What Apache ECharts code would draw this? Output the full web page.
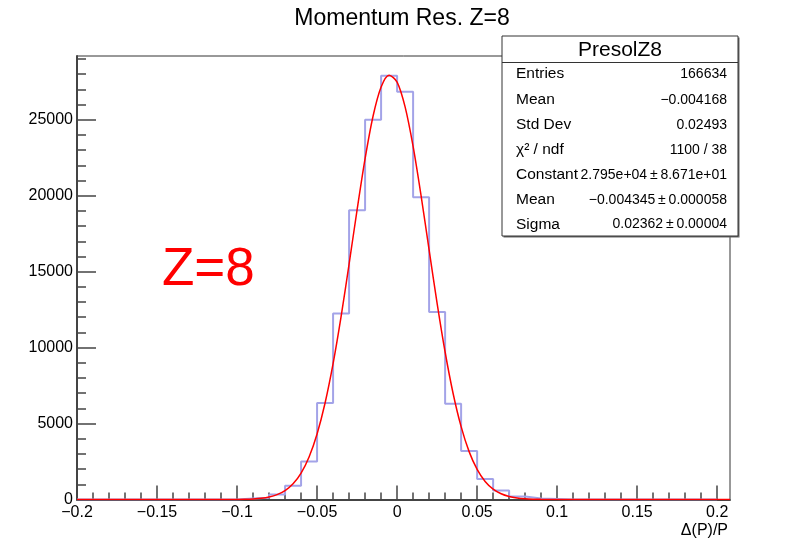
<!DOCTYPE html>
<html>
<head>
<meta charset="utf-8">
<script src="https://cdn.jsdelivr.net/npm/echarts@6/dist/echarts.min.js"></script>
<style>
html,body{margin:0;padding:0;background:#fff;}
#chart{width:802px;height:539px;}
</style>
</head>
<body>
<div id="chart"></div>
<script>
// ---------- data ----------
const chartTitle = 'Momentum Res. Z=8';
const xAxisTitle = 'Δ(P)/P';
const annotation = 'Z=8';
const binLow = -0.2;
const binWidth = 0.01;
// 40 bins from -0.2 to 0.2
const binCounts = [
  0, 0, 0, 0, 0, 0, 0, 0, 0, 0,
  60, 120, 330, 900, 2500, 6350, 12250, 19050, 25000, 27900,
  26850, 19900, 12350, 6300, 3200, 1350, 590, 200, 70, 40,
  0, 0, 0, 0, 0, 0, 0, 0, 0, 0
];
// fitted gaussian curve
const fitX = [-0.2, -0.1, -0.095, -0.09, -0.085, -0.08, -0.075, -0.07, -0.065, -0.06, -0.055,
  -0.05, -0.045, -0.04, -0.035, -0.03, -0.025, -0.02, -0.015, -0.01, -0.005,
  0, 0.005, 0.01, 0.015, 0.02, 0.025, 0.03, 0.035, 0.04, 0.045,
  0.05, 0.055, 0.06, 0.065, 0.07, 0.075, 0.08, 0.085, 0.09, 0.095, 0.1, 0.208];
const fitY = [0, 8, 18, 39, 82, 165, 319, 587, 1034, 1741, 2803,
  4318, 6356, 8944, 12041, 15496, 19070, 22438, 25248, 27160, 27939,
  27481, 25846, 23243, 19986, 16433, 12919, 9711, 6980, 4797, 3152,
  1981, 1191, 684, 376, 197, 99, 48, 22, 10, 4, 2, 0];
const xMajorTicks = [-0.2, -0.15, -0.1, -0.05, 0, 0.05, 0.1, 0.15, 0.2];
const yMajorTicks = [0, 5000, 10000, 15000, 20000, 25000];
const statsTitle = 'PresolZ8';
const statsLabels = ['Entries', 'Mean', 'Std Dev', 'χ² / ndf', 'Constant', 'Mean', 'Sigma'];
const statsValues = ['166634', '−0.004168', '0.02493', '1100 / 38', '2.795e+04\u2009±\u20098.671e+01', '−0.004345\u2009±\u20090.000058', '0.02362\u2009±\u20090.00004'];

// ---------- build ----------
const X_MIN = -0.2, X_MAX = 0.208, Y_MIN = 0, Y_MAX = 29200;
const xMinorTicks = [];
for (let i = 0; i <= 40; i++) {
  const v = Math.round((-0.2 + i * 0.01) * 1000) / 1000;
  if (i % 5 !== 0) xMinorTicks.push(v);
}
const yMinorTicks = [];
for (let v = 1000; v <= 29000; v += 1000) if (v % 5000 !== 0) yMinorTicks.push(v);

const histData = binCounts.map((c, i) => [Math.round((binLow + i * binWidth) * 1000) / 1000, c]);
histData.push([Math.round((binLow + binCounts.length * binWidth) * 1000) / 1000, binCounts[binCounts.length - 1]]);
const fitData = fitX.map((x, i) => [x, fitY[i]]);

const FONT = '"Liberation Sans", Arial, Helvetica, sans-serif';
const AX = '#444';
const gridRect = { left: 77, right: 72, top: 56, bottom: 39.5 };
function fmtX(v) {
  if (v === 0) return '0';
  return (v < 0 ? '−' : '') + String(Math.abs(v));
}

const statsGraphic = [];
const bx = 502, by = 36, bw = 236, bh = 200;
statsGraphic.push({ type: 'rect', shape: { x: bx + 1.5, y: by + 1.5, width: bw, height: bh }, style: { fill: '#666' }, z: 100 });
statsGraphic.push({ type: 'rect', shape: { x: bx, y: by, width: bw, height: bh }, style: { fill: '#fff', stroke: '#333', lineWidth: 1 }, z: 101 });
statsGraphic.push({ type: 'line', shape: { x1: bx, y1: 62.5, x2: bx + bw, y2: 62.5 }, style: { stroke: '#333', lineWidth: 1 }, z: 102 });
statsGraphic.push({ type: 'text', x: 620, y: 50, z: 103, style: { text: statsTitle, font: '21px ' + FONT, fill: '#000', align: 'center', verticalAlign: 'middle' } });
const rowY = [74, 100, 125, 150, 175, 200, 224.5];
statsLabels.forEach((l, i) => {
  statsGraphic.push({ type: 'text', x: 516, y: rowY[i], z: 103, style: { text: l, font: '15.5px ' + FONT, fill: '#000', align: 'left', verticalAlign: 'middle' } });
  statsGraphic.push({ type: 'text', x: 727, y: rowY[i], z: 103, style: { text: statsValues[i], font: '14px ' + FONT, fill: '#000', align: 'right', verticalAlign: 'middle' } });
});

const option = {
  animation: false,
  backgroundColor: '#fff',
  grid: [
    Object.assign({ show: true, borderColor: '#333', borderWidth: 1, backgroundColor: 'transparent' }, gridRect),
    Object.assign({ show: false }, gridRect)
  ],
  xAxis: [
    {
      type: 'value', gridIndex: 0, min: X_MIN, max: X_MAX,
      axisLine: { show: true, onZero: false, lineStyle: { color: AX, width: 2 } },
      axisTick: { show: true, inside: true, length: 14, customValues: xMajorTicks, lineStyle: { color: AX, width: 1.5 } },
      axisLabel: { show: true, customValues: xMajorTicks, margin: 5, formatter: fmtX, color: '#000', fontSize: 16, fontFamily: FONT },
      splitLine: { show: false }
    },
    {
      type: 'value', gridIndex: 1, min: X_MIN, max: X_MAX,
      axisLine: { show: false, onZero: false },
      axisTick: { show: true, inside: true, length: 7, customValues: xMinorTicks, lineStyle: { color: AX, width: 1.5 } },
      axisLabel: { show: false },
      splitLine: { show: false }
    }
  ],
  yAxis: [
    {
      type: 'value', gridIndex: 0, min: Y_MIN, max: Y_MAX,
      axisLine: { show: true, onZero: false, lineStyle: { color: AX, width: 2 } },
      axisTick: { show: true, inside: true, length: 19, customValues: yMajorTicks, lineStyle: { color: AX, width: 1.5 } },
      axisLabel: { show: true, customValues: yMajorTicks, margin: 4, formatter: (v) => String(v), color: '#000', fontSize: 16, fontFamily: FONT },
      splitLine: { show: false }
    },
    {
      type: 'value', gridIndex: 1, min: Y_MIN, max: Y_MAX,
      axisLine: { show: false, onZero: false },
      axisTick: { show: true, inside: true, length: 9, customValues: yMinorTicks, lineStyle: { color: AX, width: 1.5 } },
      axisLabel: { show: false },
      splitLine: { show: false }
    }
  ],
  series: [
    {
      type: 'line', name: 'hist', xAxisIndex: 0, yAxisIndex: 0, step: 'end', data: histData,
      symbol: 'none', lineStyle: { color: '#a3a3e8', width: 2 }, z: 3
    },
    {
      type: 'line', name: 'fit', xAxisIndex: 0, yAxisIndex: 0, data: fitData, smooth: 0.3,
      symbol: 'none', lineStyle: { color: '#ff0000', width: 1.5 }, z: 4
    }
  ],
  graphic: [
    { type: 'text', x: 402, y: 19, style: { text: chartTitle, font: '23px ' + FONT, fill: '#000', align: 'center', verticalAlign: 'middle' } },
    { type: 'text', x: 728, y: 531, style: { text: xAxisTitle, font: '16px ' + FONT, fill: '#000', align: 'right', verticalAlign: 'middle' } },
    { type: 'text', x: 162, y: 270, style: { text: annotation, font: '53px ' + FONT, fill: '#ff0000', align: 'left', verticalAlign: 'middle' } }
  ].concat(statsGraphic)
};

const chart = echarts.init(document.getElementById('chart'), null, { renderer: 'canvas' });
chart.setOption(option);
</script>
</body>
</html>
